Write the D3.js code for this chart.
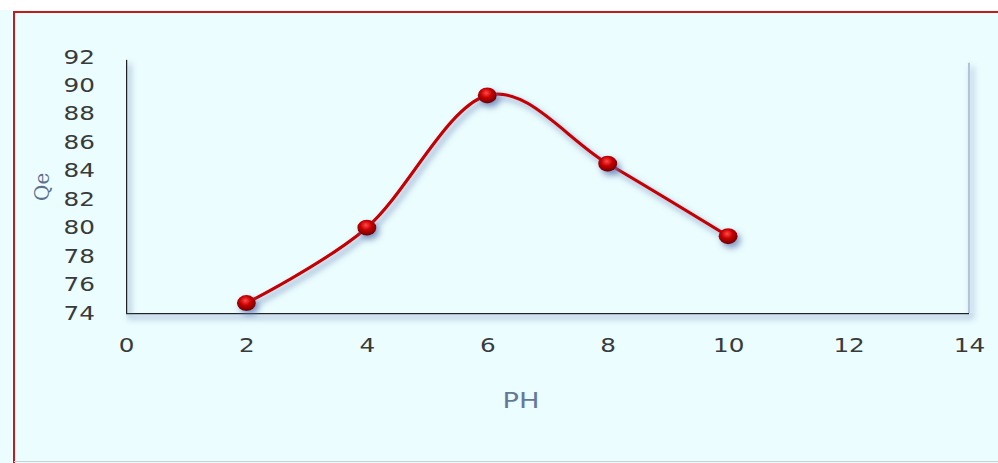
<!DOCTYPE html>
<html>
<head>
<meta charset="utf-8">
<script src="https://cdn.jsdelivr.net/npm/d3@7"></script>
<style>
  body { margin: 0; background: #fff; }
  svg { display: block; }
</style>
</head>
<body>
<div id="chart"></div>
<script>
const phValues = [2, 4, 6, 8, 10];
const qeValues = [74.7, 80.0, 89.3, 84.5, 79.4];
const xTicks = [0, 2, 4, 6, 8, 10, 12, 14];
const yTicks = [74, 76, 78, 80, 82, 84, 86, 88, 90, 92];

const width = 998, height = 463;
const margin = { top: 57, right: 29, bottom: 150, left: 126 };
// the source picture is stretched sideways, so text is widened too
const stretch = 1.3;

const svg = d3.select('#chart').append('svg')
   .attr('width', width)
   .attr('height', height);

const defs = svg.append('defs');

// user-space filter so flat lines keep their shadow
const shadow = defs.append('filter').attr('id', 'shadow')
   .attr('filterUnits', 'userSpaceOnUse')
   .attr('x', 0).attr('y', 0).attr('width', width).attr('height', height);
shadow.append('feDropShadow')
   .attr('dx', 3).attr('dy', 4).attr('stdDeviation', 3)
   .attr('flood-color', '#5c76ae').attr('flood-opacity', 0.7);

const ball = defs.append('radialGradient').attr('id', 'ball')
   .attr('cx', '45%').attr('cy', '35%').attr('r', '65%');
ball.append('stop').attr('offset', '0%').attr('stop-color', '#ff4a4a');
ball.append('stop').attr('offset', '45%').attr('stop-color', '#c80000');
ball.append('stop').attr('offset', '100%').attr('stop-color', '#6a0000');

// frame
svg.append('rect')
   .attr('x', 0).attr('y', 10).attr('width', width).attr('height', height - 10)
   .attr('fill', '#ebfdfe');
svg.append('line')
   .attr('x1', 13).attr('x2', width).attr('y1', 12).attr('y2', 12)
   .attr('stroke', '#c41a1a').attr('stroke-width', 2);
svg.append('line')
   .attr('x1', 14).attr('x2', 14).attr('y1', 11).attr('y2', height)
   .attr('stroke', '#c41a1a').attr('stroke-width', 2);
svg.append('line')
   .attr('x1', 14).attr('x2', width).attr('y1', 461.5).attr('y2', 461.5)
   .attr('stroke', '#cfcfcf').attr('stroke-width', 1);

const innerW = width - margin.left - margin.right;
const innerH = height - margin.top - margin.bottom;

const x = d3.scaleLinear().domain([0, 14]).range([margin.left, margin.left + innerW]);
const y = d3.scaleLinear().domain([74, 92]).range([margin.top + innerH, margin.top]);

// right side of plot frame
svg.append('line')
   .attr('x1', x(14)).attr('x2', x(14)).attr('y1', y(91.6)).attr('y2', y(74))
   .attr('stroke', '#b4c2da').attr('stroke-width', 2)
   .attr('filter', 'url(#shadow)');

const xAxisG = svg.append('g')
   .attr('transform', `translate(0,${y(74)})`)
   .call(d3.axisBottom(x).tickValues(xTicks).tickSize(0).tickPadding(26));
const yAxisG = svg.append('g')
   .attr('transform', `translate(${x(0)},0)`)
   .call(d3.axisLeft(y).tickValues(yTicks).tickSize(0).tickPadding(31));

[xAxisG, yAxisG].forEach(g => {
   g.select('.domain').attr('stroke', '#222').attr('stroke-width', 2.5)
      .attr('filter', 'url(#shadow)');
   g.selectAll('text')
      .attr('fill', '#3a3a3a')
      .style('font-family', '"DejaVu Sans", sans-serif')
      .style('font-size', '19px')
      .each(function () {
         const t = d3.select(this);
         const tx = +t.attr('x') || 0;
         t.attr('x', tx / stretch).attr('transform', `scale(${stretch},1)`);
      });
});
yAxisG.select('.domain').attr('d', `M0,${y(91.8)}V${y(74)}`);
xAxisG.select('.domain').attr('d', `M${x(0)},0H${x(14)}`);

// axis titles
svg.append('text')
   .attr('transform', `translate(49,${y(84) + 16}) rotate(-90)`)
   .attr('text-anchor', 'middle')
   .attr('fill', '#5f6f8f')
   .style('font-family', '"DejaVu Serif", serif')
   .style('font-size', '20px')
   .text('Qe');

svg.append('text')
   .attr('transform', `translate(521,408) scale(${stretch},1)`)
   .attr('text-anchor', 'middle')
   .attr('fill', '#66789a')
   .style('font-family', '"DejaVu Sans", sans-serif')
   .style('font-size', '21px')
   .text('PH');

// series
const points = phValues.map((p, i) => ({ ph: p, qe: qeValues[i] }));

const line = d3.line()
   .x(d => x(d.ph))
   .y(d => y(d.qe))
   .curve(d3.curveCardinal.tension(0));

svg.append('path')
   .datum(points)
   .attr('d', line)
   .attr('fill', 'none')
   .attr('stroke', '#c40000')
   .attr('stroke-width', 3.2)
   .attr('filter', 'url(#shadow)');

svg.append('g')
   .selectAll('ellipse')
   .data(points)
   .join('ellipse')
   .attr('cx', d => x(d.ph))
   .attr('cy', d => y(d.qe))
   .attr('rx', 9.5)
   .attr('ry', 8)
   .attr('fill', 'url(#ball)')
   .attr('filter', 'url(#shadow)');
</script>
</body>
</html>
